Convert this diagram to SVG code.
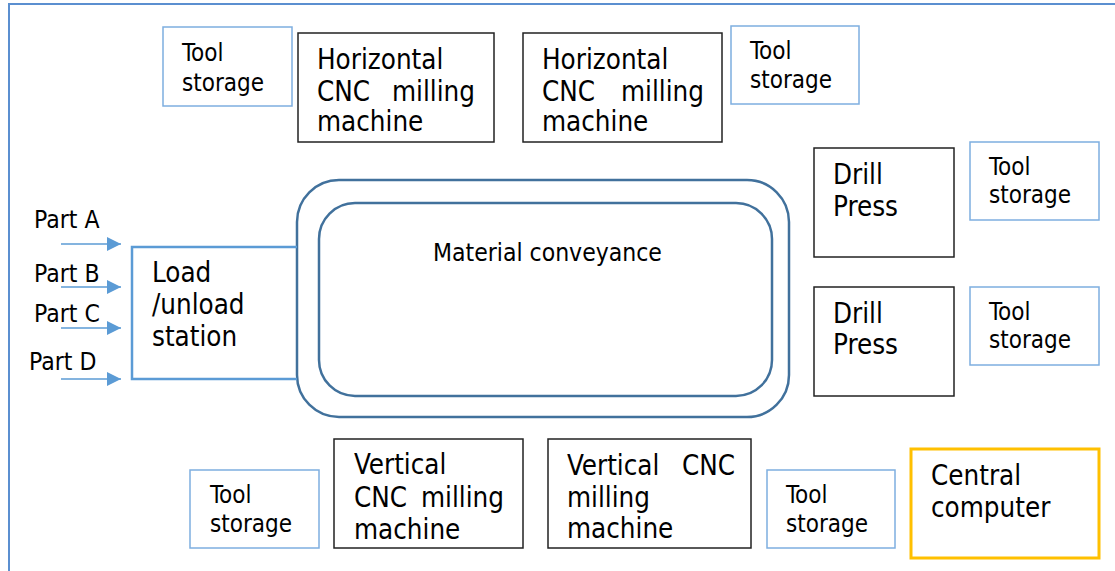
<svg xmlns="http://www.w3.org/2000/svg" width="1115" height="571" viewBox="0 0 1115 571">
<defs>
<style>
.t{font-family:"DejaVu Sans Condensed","DejaVu Sans",sans-serif;font-stretch:condensed;fill:#000}
.big{font-size:27.5px}
.mid{font-size:24px}
.sm{font-size:24.5px}
.mach{fill:#fff;stroke:#222;stroke-width:1.5}
.tool{fill:#fff;stroke:#7EAEE0;stroke-width:1.5}
.conv{fill:none;stroke:#41719C;stroke-width:2.5}
.arr{stroke:#5B9BD5;stroke-width:1.5;fill:none}
</style>
<marker id="ah" markerWidth="14" markerHeight="14" refX="14" refY="7" orient="auto" markerUnits="userSpaceOnUse">
<path d="M0,0 L14,7 L0,14 Z" fill="#5B9BD5"/>
</marker>
</defs>
<rect x="0" y="0" width="1115" height="571" fill="#fff"/>
<rect id="frame" x="9" y="4" width="1120" height="590" fill="none" stroke="#5B8FD0" stroke-width="2"/>

<g id="tool1"><rect class="tool" x="163" y="27" width="129" height="79"/><text class="t mid" x="182" y="61">Tool</text><text class="t mid" x="182" y="91">storage</text></g>
<g id="hcnc1"><rect class="mach" x="298" y="33" width="196" height="109"/><text class="t big" x="317" y="69">Horizontal</text><text class="t big" y="101"><tspan x="317">CNC</tspan><tspan x="392">milling</tspan></text><text class="t big" x="317" y="131">machine</text></g>
<g id="hcnc2"><rect class="mach" x="523" y="33" width="199" height="109"/><text class="t big" x="542" y="69">Horizontal</text><text class="t big" y="101"><tspan x="542">CNC</tspan><tspan x="621">milling</tspan></text><text class="t big" x="542" y="131">machine</text></g>
<g id="tool2"><rect class="tool" x="731" y="26" width="128" height="78"/><text class="t mid" x="750" y="59">Tool</text><text class="t mid" x="750" y="88">storage</text></g>

<g id="drill1"><rect class="mach" x="814" y="148" width="140" height="109"/><text class="t big" x="833" y="184">Drill</text><text class="t big" x="833" y="216">Press</text></g>
<g id="tool3"><rect class="tool" x="970" y="142" width="129" height="78"/><text class="t mid" x="989" y="175">Tool</text><text class="t mid" x="989" y="203">storage</text></g>
<g id="drill2"><rect class="mach" x="814" y="287" width="140" height="109"/><text class="t big" x="833" y="323">Drill</text><text class="t big" x="833" y="354">Press</text></g>
<g id="tool4"><rect class="tool" x="970" y="287" width="129" height="78"/><text class="t mid" x="989" y="320">Tool</text><text class="t mid" x="989" y="348">storage</text></g>

<g id="conveyance"><rect class="conv" x="297" y="180" width="492" height="237" rx="42" ry="42"/><rect class="conv" x="319" y="203" width="453" height="193" rx="36" ry="36"/><text class="t sm" x="433" y="261">Material conveyance</text></g>

<g id="load"><path d="M297,247 H132 V379 H297" fill="none" stroke="#5B9BD5" stroke-width="2.5"/><text class="t big" x="152" y="282">Load</text><text class="t big" x="152" y="314">/unload</text><text class="t big" x="152" y="346">station</text></g>

<g id="partlabels"><text class="t sm" x="34" y="228">Part A</text><text class="t sm" x="34" y="282">Part B</text><text class="t sm" x="34" y="322">Part C</text><text class="t sm" x="29" y="370">Part D</text></g>

<g id="tool5"><rect class="tool" x="190" y="470" width="129" height="78"/><text class="t mid" x="210" y="503">Tool</text><text class="t mid" x="210" y="532">storage</text></g>
<g id="vcnc1"><rect class="mach" x="334" y="439" width="189" height="109"/><text class="t big" x="354" y="474">Vertical</text><text class="t big" y="507"><tspan x="354">CNC</tspan><tspan x="421">milling</tspan></text><text class="t big" x="354" y="539">machine</text></g>
<g id="vcnc2"><rect class="mach" x="548" y="439" width="203" height="109"/><text class="t big" y="475"><tspan x="567">Vertical</tspan><tspan x="682">CNC</tspan></text><text class="t big" x="567" y="507">milling</text><text class="t big" x="567" y="538">machine</text></g>
<g id="tool6"><rect class="tool" x="767" y="470" width="128" height="78"/><text class="t mid" x="786" y="503">Tool</text><text class="t mid" x="786" y="532">storage</text></g>
<g id="computer"><rect x="911" y="449" width="188" height="109" fill="#fff" stroke="#FFC000" stroke-width="3"/><text class="t big" x="931" y="485">Central</text><text class="t big" x="931" y="517">computer</text></g>

<g id="connectors">
<line class="arr" x1="61" y1="244" x2="121" y2="244" marker-end="url(#ah)"/>
<line class="arr" x1="61" y1="287" x2="121" y2="287" marker-end="url(#ah)"/>
<line class="arr" x1="61" y1="328" x2="121" y2="328" marker-end="url(#ah)"/>
<line class="arr" x1="61" y1="379" x2="121" y2="379" marker-end="url(#ah)"/>
</g>
</svg>
